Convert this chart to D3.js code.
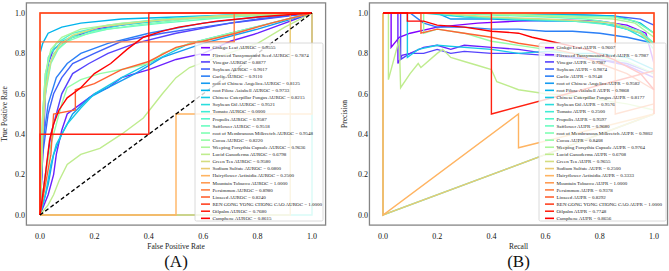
<!DOCTYPE html>
<html>
<head>
<meta charset="utf-8">
<script src="https://cdn.jsdelivr.net/npm/d3@7"></script>
<style>
  body { margin: 0; background: #fff; }
  svg { display: block; }
  text { font-family: "Liberation Serif", "Times New Roman", serif; }
</style>
</head>
<body>
<svg id="chart" width="669" height="271"></svg>
<script>
// series names, in legend order
const names = ["Ginkgo Leaf", "Flixweed Tansymustard Seed", "Vinegar", "Soybean", "Garlic",
  "root of Chinese Angelica", "root Pilose Asiabell", "Chinese Caterpillar Fungus", "Soybean Oil", "Tomato",
  "Propolis", "Safflower", "root of Membranous Milkvetch", "Cocoa", "Weeping Forsythia Capsule",
  "Lucid Ganoderma", "Green Tea", "Sodium Sulfate", "Hairyflower Actinidia", "Mountain Tobacco",
  "Persimmon", "Linseed", "REN GONG YONG CHONG CAO", "Oilpalm", "Camphene"];

const aurocValues = [0.9555, 0.7874, 0.8877, 0.9017, 0.9110, 0.8125, 0.9733, 0.8215, 0.9521, 0.0000,
  0.9587, 0.9518, 0.9548, 0.8220, 0.9636, 0.6798, 0.9580, 0.0800, 0.2500, 1.0000,
  0.8980, 0.8240, 1.0000, 0.7680, 0.8615];

const auprValues = [0.9607, 0.7987, 0.7987, 0.9874, 0.9148, 0.9582, 0.9868, 0.8177, 0.9576, 0.2500,
  0.9597, 0.9680, 0.9802, 0.8408, 0.9764, 0.6708, 0.9655, 0.2500, 0.3333, 1.0000,
  0.9378, 0.8292, 1.0000, 0.7748, 0.8656];

// ROC curves: [false positive rate, true positive rate]
const rocCurves = [
  [[0,0],[0.01,0.3],[0.02,0.6],[0.03,0.75],[0.05,0.82],[0.08,0.85],[0.12,0.88],[0.2,0.92],[0.35,0.95],[0.5,0.97],[0.7,0.985],[1,1]],
  [[0,0],[0.03,0.1],[0.05,0.2],[0.06,0.3],[0.08,0.42],[0.1,0.5],[0.15,0.55],[0.2,0.6],[0.25,0.63],[0.3,0.68],[0.4,0.72],[0.5,0.77],[0.6,0.8],[0.7,0.86],[0.8,0.9],[0.9,0.95],[1,1]],
  [[0,0],[0.02,0.2],[0.04,0.4],[0.06,0.5],[0.08,0.6],[0.12,0.7],[0.18,0.75],[0.25,0.8],[0.35,0.85],[0.5,0.9],[0.7,0.95],[1,1]],
  [[0,0],[0.01,0.3],[0.03,0.5],[0.05,0.6],[0.08,0.68],[0.12,0.75],[0.2,0.8],[0.3,0.86],[0.45,0.9],[0.6,0.93],[0.8,0.97],[1,1]],
  [[0,0],[0.01,0.35],[0.03,0.55],[0.06,0.68],[0.1,0.75],[0.15,0.8],[0.25,0.85],[0.4,0.9],[0.6,0.95],[0.8,0.98],[1,1]],
  [[0,0],[0.03,0.15],[0.05,0.3],[0.08,0.4],[0.12,0.5],[0.18,0.58],[0.25,0.63],[0.35,0.7],[0.45,0.78],[0.6,0.85],[0.8,0.92],[1,1]],
  [[0,0],[0,0.8],[0.01,0.85],[0.03,0.9],[0.08,0.93],[0.15,0.95],[0.3,0.97],[0.5,0.98],[0.7,0.99],[1,1]],
  [[0,0],[0.02,0.1],[0.04,0.25],[0.06,0.35],[0.1,0.45],[0.15,0.53],[0.2,0.6],[0.3,0.68],[0.4,0.75],[0.55,0.85],[0.7,0.9],[0.85,0.95],[1,1]],
  [[0,0],[0.01,0.5],[0.02,0.7],[0.04,0.8],[0.08,0.86],[0.15,0.9],[0.3,0.94],[0.5,0.97],[0.75,0.99],[1,1]],
  [[0,0],[1,0],[1,1]],
  [[0,0],[0.01,0.45],[0.02,0.65],[0.03,0.78],[0.06,0.85],[0.12,0.9],[0.25,0.94],[0.45,0.97],[0.7,0.99],[1,1]],
  [[0,0],[0.01,0.4],[0.02,0.6],[0.04,0.75],[0.07,0.83],[0.12,0.88],[0.25,0.92],[0.45,0.95],[0.7,0.98],[1,1]],
  [[0,0],[0.01,0.5],[0.03,0.72],[0.05,0.8],[0.1,0.86],[0.2,0.91],[0.35,0.94],[0.55,0.97],[0.8,0.99],[1,1]],
  [[0,0],[0.02,0.2],[0.04,0.35],[0.06,0.45],[0.08,0.55],[0.1,0.63],[0.15,0.67],[0.22,0.7],[0.3,0.72],[0.4,0.75],[0.45,0.8],[0.55,0.85],[0.7,0.9],[0.85,0.95],[1,1]],
  [[0,0],[0.01,0.5],[0.02,0.7],[0.04,0.82],[0.08,0.88],[0.15,0.92],[0.3,0.95],[0.5,0.97],[0.75,0.99],[1,1]],
  [[0,0],[0.03,0.05],[0.05,0.1],[0.07,0.17],[0.1,0.25],[0.15,0.3],[0.22,0.33],[0.3,0.4],[0.38,0.48],[0.45,0.6],[0.5,0.68],[0.55,0.73],[0.65,0.78],[0.8,0.85],[0.9,0.93],[1,1]],
  [[0,0],[0.01,0.4],[0.02,0.62],[0.04,0.76],[0.07,0.84],[0.12,0.89],[0.22,0.93],[0.4,0.96],[0.65,0.985],[1,1]],
  [[0,0],[0.92,0],[0.92,1],[1,1]],
  [[0,0],[0.5,0],[0.5,0.5],[1,0.5],[1,1]],
  [[0,0],[0,1],[1,1]],
  [[0,0],[0,0.857],[0.714,0.857],[0.714,1],[1,1]],
  [[0,0],[0.04,0.3],[0.05,0.5],[0.13,0.52],[0.13,0.62],[0.2,0.65],[0.3,0.72],[0.4,0.76],[0.5,0.83],[0.6,0.86],[0.72,0.9],[0.85,0.95],[1,1]],
  [[0,0],[0,1],[1,1]],
  [[0,0],[0,0.4],[0.4,0.4],[0.4,1],[1,1]],
  [[0,0],[0.007,0.07],[0.02,0.2],[0.035,0.37],[0.05,0.45],[0.07,0.52],[0.1,0.58],[0.15,0.63],[0.2,0.7],[0.26,0.75],[0.32,0.82],[0.38,0.88],[0.45,0.91],[0.51,0.93],[0.65,0.96],[0.8,0.98],[1,1]]
];

// PR curves: [recall, precision]
const prCurves = [
  [[0,1],[0.03,1],[0.03,0.83],[0.06,0.88],[0.1,0.9],[0.2,0.93],[0.35,0.95],[0.5,0.96],[0.65,0.965],[0.8,0.96],[0.9,0.94],[0.97,0.9],[1,0.75]],
  [[0,1],[0.055,1],[0.055,0.75],[0.07,0.79],[0.1,0.8],[0.15,0.83],[0.2,0.84],[0.25,0.82],[0.3,0.84],[0.4,0.83],[0.5,0.82],[0.6,0.8],[0.7,0.78],[0.8,0.77],[0.9,0.74],[1,0.68]],
  [[0,1],[0.065,1],[0.065,0.77],[0.1,0.8],[0.15,0.8],[0.2,0.82],[0.25,0.8],[0.3,0.81],[0.4,0.8],[0.5,0.8],[0.6,0.79],[0.7,0.78],[0.8,0.77],[0.9,0.75],[1,0.7]],
  [[0,1],[0.3,1],[0.5,0.995],[0.7,0.99],[0.85,0.985],[0.95,0.97],[1,0.94]],
  [[0,1],[0.1,1],[0.15,0.95],[0.2,0.93],[0.3,0.93],[0.4,0.92],[0.5,0.92],[0.6,0.91],[0.7,0.91],[0.8,0.9],[0.9,0.88],[1,0.85]],
  [[0,1],[0.2,1],[0.25,0.97],[0.4,0.97],[0.6,0.96],[0.75,0.96],[0.85,0.94],[0.95,0.9],[1,0.85]],
  [[0,1],[0.4,1],[0.6,0.995],[0.75,0.99],[0.85,0.985],[0.9,0.97],[0.95,0.95],[1,0.9]],
  [[0,1],[0.09,1],[0.09,0.78],[0.13,0.82],[0.2,0.84],[0.3,0.83],[0.4,0.82],[0.5,0.8],[0.6,0.81],[0.7,0.8],[0.8,0.8],[0.9,0.78],[1,0.72]],
  [[0,1],[0.15,1],[0.3,0.98],[0.5,0.97],[0.7,0.96],[0.8,0.95],[0.9,0.92],[1,0.85]],
  [[0,1],[0,0],[1,0.5]],
  [[0,1],[0.2,1],[0.35,0.98],[0.5,0.97],[0.7,0.96],[0.85,0.94],[0.95,0.9],[1,0.82]],
  [[0,1],[0.25,1],[0.4,0.99],[0.6,0.98],[0.75,0.97],[0.85,0.95],[0.95,0.91],[1,0.85]],
  [[0,1],[0.35,1],[0.55,0.99],[0.7,0.985],[0.85,0.98],[0.93,0.96],[1,0.9]],
  [[0,1],[0.15,1],[0.15,0.9],[0.2,0.92],[0.3,0.9],[0.4,0.86],[0.5,0.84],[0.6,0.82],[0.7,0.8],[0.8,0.78],[0.9,0.76],[1,0.7]],
  [[0,1],[0.3,1],[0.5,0.99],[0.7,0.98],[0.85,0.97],[0.93,0.95],[1,0.88]],
  [[0,1],[0.02,1],[0.02,0.67],[0.06,0.87],[0.065,0.63],[0.1,0.7],[0.13,0.75],[0.14,0.73],[0.2,0.8],[0.22,0.82],[0.25,0.78],[0.3,0.76],[0.35,0.74],[0.4,0.72],[0.42,0.66],[0.5,0.62],[0.6,0.6],[0.7,0.59],[0.8,0.57],[0.9,0.55],[1,0.52]],
  [[0,1],[0.2,1],[0.4,0.98],[0.6,0.97],[0.75,0.96],[0.85,0.95],[0.95,0.9],[1,0.84]],
  [[0,1],[0,0],[1,0.5]],
  [[0,1],[0,0],[0.5,0.5],[0.5,0.333],[1,0.5]],
  [[0,1],[1,1],[1,0.5]],
  [[0,1],[0.857,1],[0.857,0.5],[1,0.55]],
  [[0,1],[0.14,1],[0.14,0.9],[0.2,0.92],[0.3,0.9],[0.4,0.88],[0.5,0.85],[0.6,0.83],[0.7,0.8],[0.8,0.75],[0.9,0.7],[1,0.62]],
  [[0,1],[1,1],[1,0.5]],
  [[0,1],[0.4,1],[0.4,0.5],[1,0.714]],
  [[0,1],[0.09,1],[0.09,0.96],[0.15,0.96],[0.2,0.94],[0.3,0.93],[0.4,0.91],[0.5,0.9],[0.55,0.88],[0.65,0.85],[0.75,0.82],[0.85,0.77],[0.95,0.7],[1,0.62]]
];

const tickValues = [0, 0.2, 0.4, 0.6, 0.8, 1.0];

// matplotlib "rainbow" colormap
function rainbow(t) {
  const r = Math.min(1, Math.abs(2 * t - 0.5));
  const g = Math.sin(Math.PI * t);
  const b = Math.cos(Math.PI * t / 2);
  return d3.rgb(r * 255, g * 255, b * 255).formatHex();
}
const colors = names.map((d, i) => rainbow(i / (names.length - 1)));
const fmt = d3.format(".1f");

const svg = d3.select("#chart");

function drawPanel(p) {
  const x = d3.scaleLinear().domain([-0.05, 1.05]).range([p.left, p.right]);
  const y = d3.scaleLinear().domain([-0.05, 1.05]).range([225.1, 2.9]);
  const g = svg.append("g");

  const line = d3.line().x(d => x(d[0])).y(d => y(d[1]));

  p.curves.forEach((pts, i) => {
    g.append("path")
      .datum(pts)
      .attr("fill", "none")
      .attr("stroke", colors[i])
      .attr("stroke-width", 1.4)
      .attr("d", line);
  });

  if (p.diagonal) {
    g.append("path")
      .datum([[0, 0], [1, 1]])
      .attr("fill", "none")
      .attr("stroke", "#000")
      .attr("stroke-width", 1.3)
      .attr("stroke-dasharray", "4,2.5")
      .attr("d", line);
  }

  // frame
  g.append("rect")
    .attr("x", x(-0.05)).attr("y", y(1.05))
    .attr("width", x(1.05) - x(-0.05)).attr("height", y(-0.05) - y(1.05))
    .attr("fill", "none").attr("stroke", "#858585").attr("stroke-width", 1.3);

  // tick labels (no tick marks)
  g.selectAll("text.xtick")
    .data(tickValues)
    .join("text")
    .attr("class", "xtick")
    .attr("x", d => x(d))
    .attr("y", 238.5)
    .attr("text-anchor", "middle")
    .attr("font-size", 8)
    .attr("fill", "#111")
    .text(d => fmt(d));
  g.selectAll("text.ytick")
    .data(tickValues)
    .join("text")
    .attr("class", "ytick")
    .attr("x", x(-0.05) - 1.5)
    .attr("y", d => y(d))
    .attr("dy", "0.35em")
    .attr("text-anchor", "end")
    .attr("font-size", 8)
    .attr("fill", "#111")
    .text(d => fmt(d));

  // axis titles
  const cx = (x(-0.05) + x(1.05)) / 2;
  g.append("text").attr("x", cx).attr("y", 249)
    .attr("text-anchor", "middle").attr("font-size", 7.5).attr("fill", "#222")
    .text(p.xLabel);
  g.append("text")
    .attr("transform", `translate(${p.yLabelX},114) rotate(-90)`)
    .attr("text-anchor", "middle").attr("font-size", 7.5).attr("fill", "#222")
    .text(p.yLabel);
  g.append("text").attr("x", cx).attr("y", 267)
    .attr("text-anchor", "middle").attr("font-size", 17).attr("fill", "#111")
    .text(p.tag);

  // legend
  const rowH = 7.11;
  const lg = g.append("g").attr("transform", `translate(${p.legendX},43)`);
  lg.append("rect")
    .attr("width", p.legendW).attr("height", 178).attr("rx", 1.5)
    .attr("fill", "#fff").attr("fill-opacity", 0.8)
    .attr("stroke", "#d0d0d0").attr("stroke-width", 0.8);
  const rows = lg.selectAll("g.row")
    .data(names)
    .join("g")
    .attr("class", "row")
    .attr("transform", (d, i) => `translate(0,${4.7 + i * rowH})`);
  rows.append("line")
    .attr("x1", 6).attr("x2", 15)
    .attr("stroke", (d, i) => colors[i]).attr("stroke-width", 1.6);
  rows.append("text")
    .attr("x", 17.5).attr("dy", "0.35em")
    .attr("font-size", 5).attr("fill", "#222")
    .text((d, i) => `${d} ${p.metric} = ${p.values[i].toFixed(4)}`);
}

drawPanel({
  left: 26.4, right: 325.6, curves: rocCurves, values: aurocValues, metric: "AUROC",
  xLabel: "False Positive Rate", yLabel: "True Positive Rate", tag: "(A)",
  yLabelX: 7, legendX: 195, legendW: 128, diagonal: true
});

drawPanel({
  left: 369.45, right: 667.55, curves: prCurves, values: auprValues, metric: "AUPR",
  xLabel: "Recall", yLabel: "Precision", tag: "(B)",
  yLabelX: 347, legendX: 539, legendW: 127, diagonal: false
});
</script>
</body>
</html>
